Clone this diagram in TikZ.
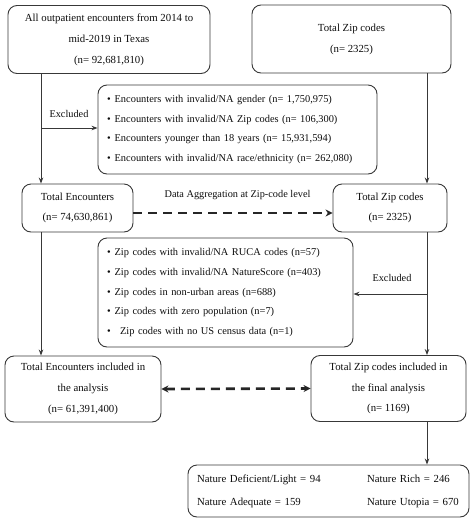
\documentclass[tikz,border=0pt]{standalone}
\usepackage{fontspec}
\setmainfont{Liberation Serif}
\usetikzlibrary{arrows.meta,calc}
\definecolor{linec}{rgb}{0.22,0.22,0.22}
\definecolor{textc}{rgb}{0.05,0.05,0.05}
\begin{document}
\begin{tikzpicture}[x=1pt,y=-1pt,
  box/.style={draw=linec, line width=0.9pt, rounded corners=9pt, inner sep=0pt, align=center, text=textc, font=\fontsize{10.8}{21}\selectfont},
  listbox/.style={box, align=left, font=\fontsize{10.4}{19.8}\selectfont},
  arr/.style={draw=linec, line width=0.9pt, -{Stealth[length=6pt,width=4.5pt]}},
  dasharr/.style={draw=black!85, line width=2.6pt, dash pattern=on 9pt off 6pt, -{Stealth[length=7pt,width=7pt]}},
  lab/.style={text=textc, inner sep=0pt, font=\fontsize{10.3}{11}\selectfont}]
\useasboundingbox (0,0) rectangle (474,523);

\coordinate (L) at (41,0);
\coordinate (R) at (427,0);

\node[box, minimum width=202pt, minimum height=68pt] (all) at (109,39.5)
  {All outpatient encounters from 2014 to\\ mid-2019 in Texas\\ (n= 92,681,810)};
\node[box, minimum width=199pt, minimum height=68pt] (zip0) at (351.5,39)
  {Total Zip codes\\ (n= 2325)};

\node[listbox, minimum width=279pt, minimum height=89pt, text width=261pt] (exc1) at (237.5,129.5)
  {\textbullet\hspace{4pt}Encounters with invalid/NA gender (n= 1,750,975)\\
   \textbullet\hspace{4pt}Encounters with invalid/NA Zip codes (n= 106,300)\\
   \textbullet\hspace{4pt}Encounters younger than 18 years (n= 15,931,594)\\
   \textbullet\hspace{4pt}Encounters with invalid/NA race/ethnicity (n= 262,080)};

\node[box, minimum width=111pt, minimum height=48pt, font=\fontsize{10.8}{20}\selectfont] (enc) at (77.5,208)
  {Total Encounters\\ (n= 74,630,861)};
\node[box, minimum width=114pt, minimum height=48pt, font=\fontsize{10.8}{20}\selectfont] (zip1) at (390,208)
  {Total Zip codes\\ (n= 2325)};

\node[listbox, minimum width=255pt, minimum height=109pt, text width=237pt] (exc2) at (225.5,292.5)
  {\textbullet\hspace{4pt}Zip codes with invalid/NA RUCA codes (n=57)\\
   \textbullet\hspace{4pt}Zip codes with invalid/NA NatureScore (n=403)\\
   \textbullet\hspace{4pt}Zip codes in non-urban areas (n=688)\\
   \textbullet\hspace{4pt}Zip codes with zero population (n=7)\\
   \textbullet\hspace{6pt} Zip codes with no US census data (n=1)};

\node[box, minimum width=156pt, minimum height=66pt, font=\fontsize{10.8}{21}\selectfont] (inc) at (83,389)
  {Total Encounters included in\\ the analysis\\ (n= 61,391,400)};
\node[box, minimum width=155pt, minimum height=66pt, font=\fontsize{10.8}{20.5}\selectfont] (zip2) at (388.5,388.5)
  {Total Zip codes included in\\ the final analysis\\ (n= 1169)};

\node[box, minimum width=281pt, minimum height=52pt, text width=263pt, align=left, font=\fontsize{10.8}{23}\selectfont] (fin) at (328.5,491)
  {\makebox[170pt][l]{Nature Deficient/Light = 94}Nature Rich = 246\\
   \makebox[170pt][l]{Nature Adequate = 159}Nature Utopia = 670};

% connectors
\draw[arr] (all.south -| L) -- (enc.north -| L);
\draw[arr] ($(exc1.west -| L)+(0,-1.5)$) -- ($(exc1.west)+(0,-1.5)$);
\node[lab] (lx1) at (69,114) {Excluded};
\draw[arr] (zip0.south -| R) -- (zip1.north -| R);
\draw[dasharr] ([yshift=-5pt]enc.east) -- ([yshift=-5pt]zip1.west);
\node[lab] (lagg) at (237.5,195) {Data Aggregation at Zip-code level};
\draw[arr] (enc.south -| L) -- (inc.north -| L);
\draw[arr] ($(exc2.east -| R)+(0,1.5)$) -- ($(exc2.east)+(0,1.5)$);
\node[lab] (lx2) at (392,278) {Excluded};
\draw[arr] (zip1.south -| R) -- (zip2.north -| R);
\draw[dasharr, {Stealth[length=7pt,width=7pt]}-{Stealth[length=7pt,width=7pt]}] (inc.east) -- (zip2.west);
\draw[arr] (zip2.south -| R) -- (fin.north -| R);
\end{tikzpicture}
\end{document}
